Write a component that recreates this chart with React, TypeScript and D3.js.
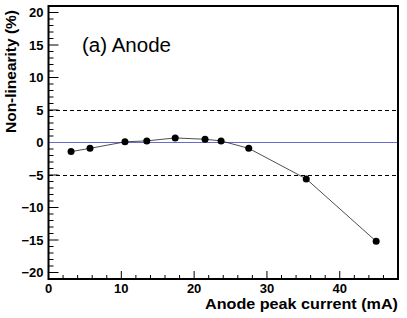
import React, { useEffect, useRef } from "react";
import * as d3 from "d3";

// anode peak current (mA) vs non-linearity (%)
const currents = [3.1, 5.7, 10.5, 13.5, 17.4, 21.5, 23.7, 27.5, 35.4, 45.0];
const nonLinearity = [-1.4, -0.9, 0.1, 0.25, 0.7, 0.5, 0.25, -0.9, -5.6, -15.2];
const xTicks = [0, 10, 20, 30, 40];
const yTicks = [-20, -15, -10, -5, 0, 5, 10, 15, 20];
const limitLines = [5, -5];

const W = 407;
const H = 318;
const margin = { top: 6, right: 9, bottom: 39, left: 48.5 };

export default function App() {
  const ref = useRef<SVGSVGElement>(null);

  useEffect(() => {
    const svg = d3.select(ref.current);
    svg.selectAll("*").remove();
    const innerW = W - margin.left - margin.right;
    const innerH = H - margin.top - margin.bottom;

    const x = d3.scaleLinear().domain([0, 48]).range([0, innerW]);
    const y = d3.scaleLinear().domain([-21, 21]).range([innerH, 0]);

    const g = svg.append("g").attr("transform", `translate(${margin.left},${margin.top})`);
    const font = "Liberation Sans, Arial, sans-serif";

    // minor ticks
    const xMinor = d3.range(0, 48.01, 2);
    g.selectAll(".xminor").data(xMinor).join("line")
      .attr("x1", d => x(d)).attr("x2", d => x(d))
      .attr("y1", innerH).attr("y2", d => innerH - (d % 10 === 0 ? 8 : 4))
      .attr("stroke", "black").attr("stroke-width", 1);
    const yMinor = d3.range(-21, 21.01, 1);
    g.selectAll(".yminor").data(yMinor).join("line")
      .attr("y1", d => y(d)).attr("y2", d => y(d))
      .attr("x1", 0).attr("x2", d => (d % 5 === 0 ? 10 : 5))
      .attr("stroke", "black").attr("stroke-width", 1);

    // tick labels
    g.selectAll(".xlab").data(xTicks).join("text")
      .attr("x", d => x(d)).attr("y", innerH + 13.5)
      .attr("text-anchor", "middle").attr("font-family", font)
      .attr("font-weight", "bold").attr("font-size", 13)
      .text(d => d3.format("d")(d));
    g.selectAll(".ylab").data(yTicks).join("text")
      .attr("x", -5).attr("y", d => y(d)).attr("dy", "0.35em")
      .attr("text-anchor", "end").attr("font-family", font)
      .attr("font-weight", "bold").attr("font-size", 13)
      .text(d => (d < 0 ? "\u2212" + Math.abs(d) : String(d)));

    // reference lines
    g.append("line").attr("x1", 0).attr("x2", innerW)
      .attr("y1", y(0)).attr("y2", y(0))
      .attr("stroke", "#6a6ad0").attr("stroke-width", 1)
      .attr("shape-rendering", "crispEdges");
    g.selectAll(".lim").data(limitLines).join("line")
      .attr("x1", 0).attr("x2", innerW)
      .attr("y1", d => y(d)).attr("y2", d => y(d))
      .attr("stroke", "black").attr("stroke-width", 1)
      .attr("stroke-dasharray", "4,3")
      .attr("shape-rendering", "crispEdges");

    // data
    const pts = currents.map((c, i) => [c, nonLinearity[i]] as [number, number]);
    g.append("path").datum(pts)
      .attr("d", d3.line<[number, number]>().x(d => x(d[0])).y(d => y(d[1])))
      .attr("fill", "none").attr("stroke", "#222").attr("stroke-width", 0.8);
    g.selectAll(".pt").data(pts).join("circle")
      .attr("cx", d => x(d[0])).attr("cy", d => y(d[1])).attr("r", 3.5)
      .attr("fill", "black");

    // frame
    g.append("rect").attr("width", innerW).attr("height", innerH)
      .attr("fill", "none").attr("stroke", "black").attr("stroke-width", 2);

    // labels
    svg.append("text").attr("x", 82).attr("y", 51.7)
      .attr("font-family", font).attr("font-size", 19.5)
      .attr("textLength", 89).attr("lengthAdjust", "spacingAndGlyphs")
      .text("(a) Anode");
    svg.append("text").attr("x", 398).attr("y", 308.5)
      .attr("text-anchor", "end").attr("font-family", font)
      .attr("font-weight", "bold").attr("font-size", 14.8)
      .attr("textLength", 193).attr("lengthAdjust", "spacingAndGlyphs")
      .text("Anode peak current (mA)");
    svg.append("text").attr("transform", "translate(16,10) rotate(-90)")
      .attr("text-anchor", "end").attr("font-family", font)
      .attr("font-weight", "bold").attr("font-size", 15)
      .attr("textLength", 123).attr("lengthAdjust", "spacingAndGlyphs")
      .text("Non-linearity (%)");
  }, []);

  return (
    <svg ref={ref} width={W} height={H} style={{ position: "absolute", left: 0, top: 0, background: "white" }} />
  );
}
